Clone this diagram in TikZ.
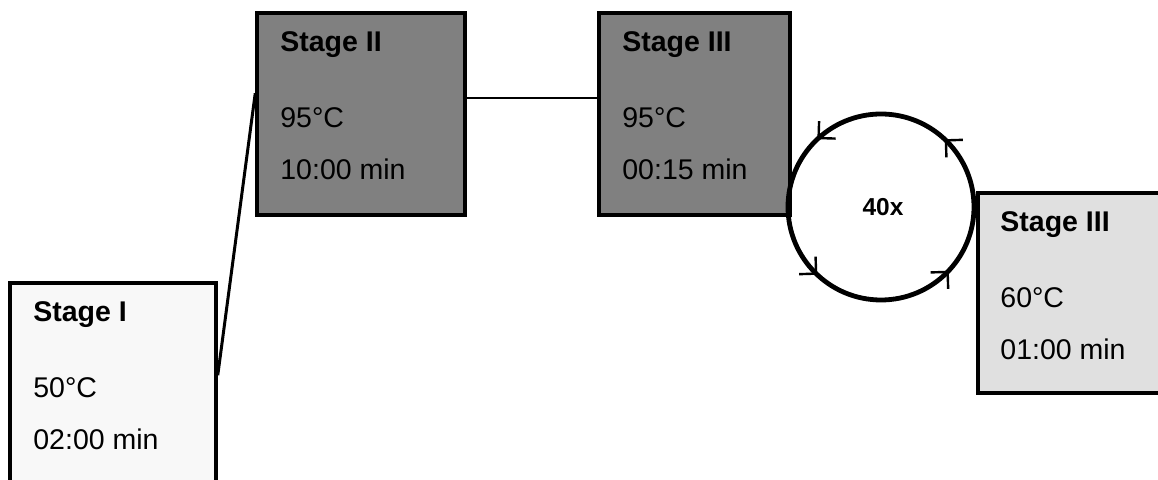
\documentclass[tikz,border=0pt]{standalone}
\usepackage{fontspec}
\setmainfont{Liberation Sans}
\usetikzlibrary{calc,arrows.meta,decorations.markings}
\begin{document}
\begin{tikzpicture}[x=0.5pt,y=0.5pt,
  box/.style={draw=black,line width=1.75pt,rectangle,inner sep=0pt},
  lbl/.style={anchor=base west,inner sep=0pt,font=\fontsize{14.25}{17}\selectfont},
  hd/.style={lbl,font=\fontsize{14.25}{17}\selectfont\bfseries},
  barb/.style={},
  loopc/.style={draw=black,line width=2.4pt,
    decoration={markings,
      mark=at position 0.13 with {\arrow{Straight Barb[length=6pt,width=12pt,line width=1.2pt]}},
      mark=at position 0.37 with {\arrow{Straight Barb[length=6pt,width=12pt,line width=1.2pt]}},
      mark=at position 0.63 with {\arrow{Straight Barb[length=6pt,width=12pt,line width=1.2pt]}},
      mark=at position 0.88 with {\arrow{Straight Barb[length=6pt,width=12pt,line width=1.2pt]}}},
    postaction={decorate}}
]
\definecolor{lightbox}{HTML}{F8F8F8}
\definecolor{darkbox}{HTML}{808080}
\definecolor{midbox}{HTML}{E0E0E0}
\useasboundingbox (0,0) rectangle (1158,-480);
\clip (0,0) rectangle (1158,-480);
\fill[white] (0,0) rectangle (1158,-480);

% boxes
\node[box,fill=lightbox,minimum width=103pt,minimum height=121pt] (s1) at (113,-404) {};
\node[box,fill=darkbox,minimum width=104pt,minimum height=101pt] (s2) at (361,-114) {};
\node[box,fill=darkbox,minimum width=95.5pt,minimum height=101pt] (s3) at (694.5,-114) {};
\node[box,fill=midbox,minimum width=101pt,minimum height=100pt] (s4) at (1079,-293) {};

% connectors
\coordinate (a1) at ($(s1.north east)+(0,-94)$);
\coordinate (a2) at ($(s2.north west)+(0,-82)$);
\draw[line width=1.5pt] (a1) -- (a2);
\coordinate (b1) at ($(s2.north east)+(0,-87)$);
\coordinate (b2) at ($(s3.north west)+(0,-87)$);
\draw[line width=1pt] (b1) -- (b2);

% loop
\node[circle,minimum size=93pt,inner sep=0pt] (cyc) at (881,-207) {};
\path[loopc] (cyc.center) circle[radius=93];
\node[inner sep=0pt,font=\fontsize{12.25}{14}\selectfont\bfseries] (cnt) at (883,-207) {40x};

% texts
\node[hd] (t1a) at (33,-322) {Stage I};
\node[lbl] (t1b) at (33,-398) {50°C};
\node[lbl] (t1c) at (33,-450) {02:00 min};

\node[hd] (t2a) at (280,-52) {Stage II};
\node[lbl] (t2b) at (280,-128) {95°C};
\node[lbl] (t2c) at (280,-180) {10:00 min};

\node[hd] (t3a) at (622,-52) {Stage III};
\node[lbl] (t3b) at (622,-128) {95°C};
\node[lbl] (t3c) at (622,-180) {00:15 min};

\node[hd] (t4a) at (1000,-232) {Stage III};
\node[lbl] (t4b) at (1000,-308) {60°C};
\node[lbl] (t4c) at (1000,-360) {01:00 min};
\end{tikzpicture}
\end{document}
